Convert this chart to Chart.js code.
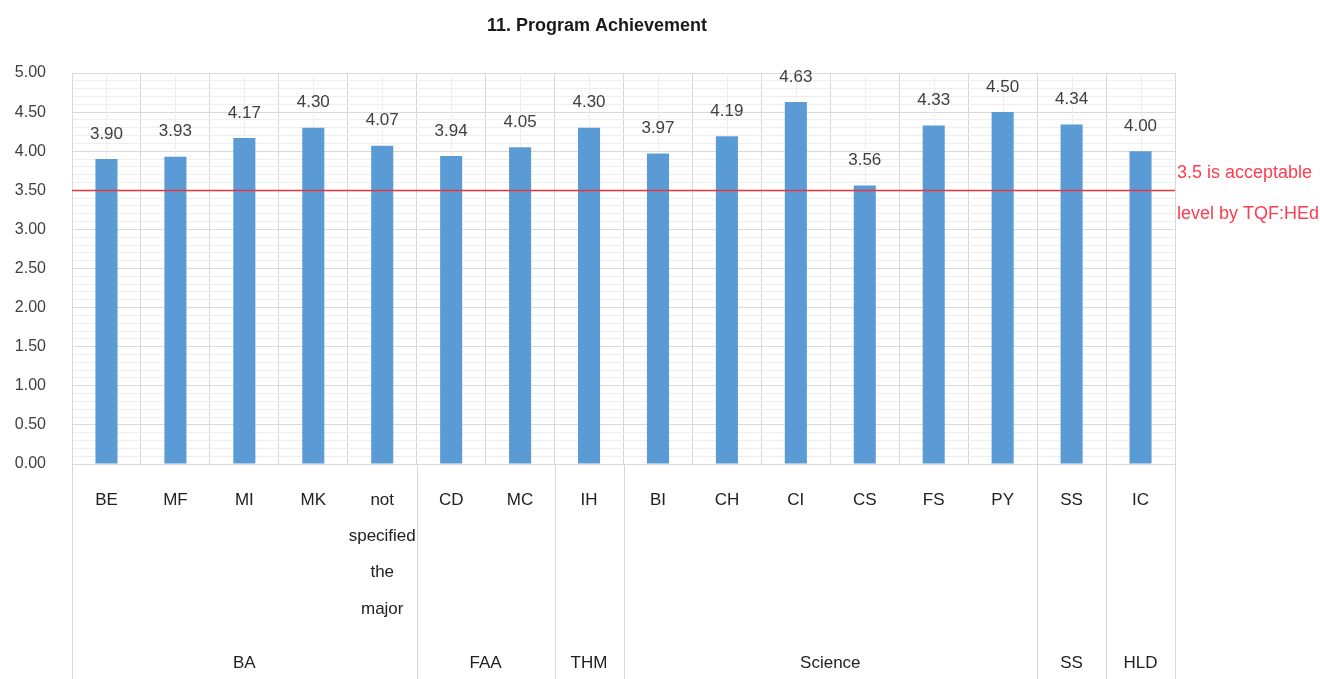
<!DOCTYPE html>
<html>
<head>
<meta charset="utf-8">
<script src="https://cdn.jsdelivr.net/npm/chart.js@4.4.1/dist/chart.umd.min.js"></script>
<style>
  html, body { margin: 0; padding: 0; background: #ffffff; }
  #wrap { width: 1320px; height: 679px; position: relative; }
</style>
</head>
<body>
<div id="wrap"><canvas id="c"></canvas></div>
<script>
// ---- data ----
const categories = ['BE', 'MF', 'MI', 'MK', ['not', 'specified', 'the', 'major'], 'CD', 'MC', 'IH', 'BI', 'CH', 'CI', 'CS', 'FS', 'PY', 'SS', 'IC'];
const scores = [3.90, 3.93, 4.17, 4.30, 4.07, 3.94, 4.05, 4.30, 3.97, 4.19, 4.63, 3.56, 4.33, 4.50, 4.34, 4.00];
const groupNames = ['BA', 'FAA', 'THM', 'Science', 'SS', 'HLD'];
const groupSizes = [5, 2, 1, 6, 1, 1];
const threshold = 3.5;
const thresholdText = ['3.5 is acceptable', 'level by TQF:HEd'];
const titleText = '11. Program Achievement';
const yMin = 0, yMax = 5, yMajor = 0.5, yMinor = 0.1;

const FONT = '"Liberation Sans", Arial, sans-serif';
const GRID = '#d9d9d9';
const GRID_MINOR = '#eeeeee';
const TEXT = '#404040';

const overlay = {
  id: 'overlay',
  beforeDatasetsDraw(chart) {
    const { ctx, chartArea: a, scales: { x } } = chart;
    ctx.save();
    ctx.strokeStyle = GRID_MINOR;
    ctx.lineWidth = 1;
    for (let i = 0; i < categories.length; i++) {
      const px = Math.round(x.getPixelForValue(i)) + 0.5;
      ctx.beginPath(); ctx.moveTo(px, a.top); ctx.lineTo(px, a.bottom); ctx.stroke();
    }
    ctx.restore();
  },
  afterDatasetsDraw(chart) {
    const { ctx, chartArea: a, scales: { x, y } } = chart;
    ctx.save();
    // data labels
    const meta = chart.getDatasetMeta(0);
    ctx.font = '17px ' + FONT;
    ctx.fillStyle = TEXT;
    ctx.textAlign = 'center';
    ctx.textBaseline = 'middle';
    meta.data.forEach((bar, i) => {
      ctx.fillText(scores[i].toFixed(2), bar.x, bar.y - 25);
    });
    // threshold line
    const ty = Math.round(y.getPixelForValue(threshold)) + 0.5;
    ctx.strokeStyle = '#e8353d';
    ctx.lineWidth = 1.5;
    ctx.beginPath(); ctx.moveTo(a.left, ty); ctx.lineTo(a.right, ty); ctx.stroke();
    ctx.fillStyle = '#ff3b4f';
    ctx.textAlign = 'left';
    ctx.font = '18px ' + FONT;
    ctx.fillText(thresholdText[0], a.right + 2, ty - 17);
    ctx.fillText(thresholdText[1], a.right + 2, ty + 24);
    // category labels
    ctx.font = '17px ' + FONT;
    ctx.fillStyle = '#222222';
    ctx.textAlign = 'center';
    categories.forEach((c, i) => {
      const px = x.getPixelForValue(i);
      const lines = Array.isArray(c) ? c : [c];
      lines.forEach((l, k) => ctx.fillText(l, px, a.bottom + 36 + k * 36.3));
    });
    // group separators and labels
    ctx.strokeStyle = GRID;
    ctx.lineWidth = 1;
    const half = (x.getPixelForValue(1) - x.getPixelForValue(0)) / 2;
    let start = 0;
    const bounds = [x.getPixelForValue(0) - half];
    groupSizes.forEach((n, g) => {
      const left = x.getPixelForValue(start) - half;
      const right = x.getPixelForValue(start + n - 1) + half;
      bounds.push(right);
      ctx.fillText(groupNames[g], (left + right) / 2, a.bottom + 199);
      start += n;
    });
    bounds.forEach(b => {
      const px = Math.round(b) + 0.5;
      ctx.beginPath(); ctx.moveTo(px, a.bottom); ctx.lineTo(px, chart.height); ctx.stroke();
    });
    // title
    ctx.fillStyle = '#1a1a1a';
    ctx.font = 'bold 18px ' + FONT;
    ctx.fillText(titleText, 597, 26);
    ctx.restore();
  }
};

new Chart(document.getElementById('c'), {
  type: 'bar',
  data: {
    labels: categories.map(c => Array.isArray(c) ? c.join(' ') : c),
    datasets: [{
      data: scores,
      backgroundColor: '#5b9bd5',
      borderWidth: 0,
      barPercentage: 0.32,
      categoryPercentage: 1
    }]
  },
  options: {
    responsive: true,
    maintainAspectRatio: false,
    animation: false,
    layout: { padding: { top: 73, right: 145, bottom: 0, left: 0 } },
    plugins: { legend: { display: false }, tooltip: { enabled: false }, title: { display: false } },
    scales: {
      x: {
        offset: true,
        grid: { offset: true, color: GRID, drawTicks: false },
        border: { color: GRID },
        ticks: { display: false },
        afterFit(s) { s.height = 215; }
      },
      y: {
        min: yMin, max: yMax,
        grid: {
          drawTicks: false,
          color: ctx => {
            const v = ctx.tick ? ctx.tick.value : 0;
            return Math.abs(v / yMajor - Math.round(v / yMajor)) < 1e-6 ? GRID : GRID_MINOR;
          }
        },
        border: { color: GRID },
        ticks: {
          stepSize: yMinor,
          autoSkip: false,
          maxTicksLimit: 200,
          padding: 26,
          color: TEXT,
          font: { family: FONT, size: 16 },
          callback: v => Math.abs(v / yMajor - Math.round(v / yMajor)) < 1e-6 ? Number(v).toFixed(2) : ''
        },
        afterFit(s) { s.width = 72; }
      }
    }
  },
  plugins: [overlay]
});
</script>
</body>
</html>
